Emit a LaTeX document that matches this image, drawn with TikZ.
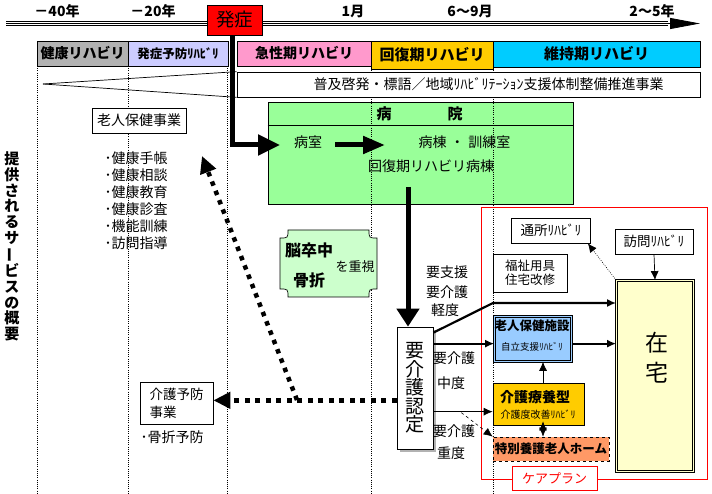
\documentclass[tikz,border=0pt]{standalone}
\usepackage{fontspec}
\setmainfont{Noto Sans CJK JP}
\usetikzlibrary{arrows.meta,calc}
\newcommand{\fsz}[1]{\fontsize{#1}{#1}\selectfont}
\newcommand{\fss}[2]{\fontsize{#1}{#2}\selectfont}
\definecolor{cgray}{RGB}{178,178,178}
\definecolor{clav}{RGB}{204,204,255}
\definecolor{cpink}{RGB}{255,153,204}
\definecolor{corange}{RGB}{255,204,0}
\definecolor{ccyan}{RGB}{0,204,255}
\definecolor{cgreen}{RGB}{153,255,153}
\definecolor{cplaque}{RGB}{204,255,204}
\definecolor{cblue}{RGB}{153,204,255}
\definecolor{csalmon}{RGB}{255,153,102}
\definecolor{cyellow}{RGB}{255,255,204}
\begin{document}
\begin{tikzpicture}[x=1pt,y=-1pt,
  bx/.style={draw, line width=0.7pt, inner sep=0pt},
  lab/.style={inner sep=0pt},
  thk/.style={line width=2.2pt},
  dotthk/.style={line width=5pt, dash pattern=on 5pt off 5.5pt},
  fdot/.style={line width=0.6pt, dash pattern=on 0.8pt off 1.4pt},
  >={Latex[length=9pt,width=8pt]}]
\useasboundingbox (0,0) rectangle (712,494);
\fill[white] (0,0) rectangle (712,494);

% timeline
\coordinate (tl0) at (6,23.5);
\coordinate (tl1) at (700,23.5);
\draw[line width=0.8pt] (6,21.3) -- (668,21.3);
\draw[line width=0.8pt] (6,25.7) -- (668,25.7);
\draw[line width=0.8pt, -{Triangle[length=30pt,width=11pt]}] (tl0) -- (tl1);
\node[lab,font=\fsz{14}\bfseries] (t40) at (57,11) {－40年};
\node[lab,font=\fsz{14}\bfseries] (t20) at (153,11) {－20年};
\node[lab,font=\fsz{14}\bfseries] (t1) at (353,11) {1月};
\node[lab,font=\fsz{14}\bfseries] (t6) at (470,11) {6～9月};
\node[lab,font=\fsz{14}\bfseries] (t2) at (652,11) {2～5年};

% hospital
\node[bx, fill=cgreen, minimum width=305pt, minimum height=102pt] (hosp) at (420.5,153) {};
\draw[line width=0.7pt] ($(hosp.north west)+(0,24)$) -- ($(hosp.north east)+(0,24)$);

% dotted guide lines
\foreach \x in {37.5,128,227,371.5,493} \draw[fdot] (\x,66) -- (\x,494);

% phases
\node[bx, fill=cgray, minimum width=91pt, minimum height=25pt, font=\fsz{14}\bfseries] (ph1) at (82.5,53.5) {健康リハビリ};
\node[bx, fill=clav, minimum width=100pt, minimum height=25pt, font=\fsz{12.5}\bfseries] (ph2) at (178,53.5) {発症予防ﾘﾊﾋﾞﾘ};
\node[bx, fill=cpink, minimum width=134pt, minimum height=25pt, font=\fsz{14}\bfseries] (ph3) at (304,53.5) {急性期リハビリ};
\node[bx, fill=ccyan, minimum width=207pt, minimum height=26pt, font=\fsz{15}\bfseries] (ph5) at (596.5,54) {維持期リハビリ};
\node[bx, fill=corange, minimum width=122pt, minimum height=28pt, font=\fsz{15}\bfseries] (ph4) at (432,55) {回復期リハビリ};

% campaign box and wedge
\node[bx, fill=white, minimum width=463pt, minimum height=25pt, font=\fsz{14}] (fukyu) at (468.5,84.5) {\hspace*{40pt}普及啓発・標語／地域ﾘﾊﾋﾞﾘﾃｰｼｮﾝ支援体制整備推進事業};
\coordinate (apex) at (43,84);
\draw[line width=0.7pt] (apex) -- (fukyu.north west);
\draw[line width=0.7pt] (apex) -- (fukyu.south west);

% onset
\coordinate (a1) at (280,145);
\draw[line width=5pt, -{Triangle[length=22pt,width=20pt]}] (232,35) |- (a1);
\node[bx, fill=red, minimum width=55pt, minimum height=30pt, font=\fsz{18.5}] (hassho) at (234.5,20) {発症};

% hospital contents
\node[lab, font=\fsz{15}\bfseries] (hb) at (384,114) {病};
\node[lab, font=\fsz{15}\bfseries] (hi) at (455,114) {院};
\node[lab, font=\fsz{14}] (byoshitsu) at (308,142) {病室};
\node[lab, font=\fsz{14}] (byoto) at (464.5,142) {病棟\hspace{4pt}・\hspace{4pt}訓練室};
\node[lab, font=\fsz{14}] (kaifuku) at (431,166) {回復期リハビリ病棟};
\coordinate (h0) at (335,145);
\coordinate (h1) at (385,145);
\draw[line width=5pt, -{Triangle[length=22pt,width=17pt]}] (h0) -- (h1);

% left vertical title
\node[lab, align=center, font={\fss{15}{15.7}\bfseries}] (title) at (12,246.5) {提\\供\\さ\\れ\\る\\サ\\\rotatebox[origin=c]{90}{ー}\\ビ\\ス\\の\\概\\要};

% health services
\node[bx, fill=white, minimum width=94pt, minimum height=25pt, font=\fsz{14}] (rojin) at (139,120.5) {老人保健事業};
\node[lab, align=left, font={\fss{14}{17}}] (list) at (136,200.5) {･健康手帳\\･健康相談\\･健康教育\\･健康診査\\･機能訓練\\･訪問指導};

% plaque
\fill[cplaque] (288,230) -- (369,230) .. controls (369,238) .. (377,238) -- (377,289) .. controls (369,289) .. (369,297) -- (288,297) .. controls (288,289) .. (280,289) -- (280,238) .. controls (288,238) .. (288,230) -- cycle;
\draw[line width=0.7pt] (288,230) -- (369,230) .. controls (369,238) .. (377,238) -- (377,289) .. controls (369,289) .. (369,297) -- (288,297) .. controls (288,289) .. (280,289) -- (280,238) .. controls (288,238) .. (288,230) -- cycle;
\node[lab, font=\fsz{16}\bfseries] (nou) at (309,250) {脳卒中};
\node[lab, font=\fsz{16}\bfseries] (kotsu) at (309,280) {骨折};
\node[lab, font=\fsz{13}] (juushi) at (355,267) {を重視};

% care plan area
\node[draw=red, line width=0.8pt, inner sep=0pt, minimum width=226pt, minimum height=272pt] (area) at (594,343) {};

% certification
\fill[cgray] (400,330) rectangle (436,452);
\node[bx, fill=white, minimum width=36pt, minimum height=122pt] (nintei) at (415,388) {};
\node[lab, align=center, font={\fss{19}{18.5}}] (nt) at (415,388) {要\\介\\護\\認\\定};
\coordinate (d0) at (408,187);
\draw[line width=5pt, -{Triangle[length=18pt,width=22pt]}] (d0) -- (d0 |- nintei.north);

\node[lab, font=\fsz{14}] (l1) at (447,272) {要支援};
\node[lab, font=\fsz{14}] (l2) at (447,292) {要介護};
\node[lab, font=\fsz{14}] (l3) at (445,310) {軽度};
\node[lab, font=\fsz{14}] (l4) at (454,358) {要介護};
\node[lab, font=\fsz{14}] (l5) at (451,383) {中度};
\node[lab, font=\fsz{14}] (l6) at (454,431) {要介護};
\node[lab, font=\fsz{14}] (l7) at (451,453) {重度};

% care prevention
\node[bx, fill=white, minimum width=73pt, minimum height=42pt, align=left, font={\fss{13.5}{18}}] (yobo) at (176.5,403) {介護予防\\事業};
\node[lab, font=\fsz{14}] (kossetsu) at (172,437) {･骨折予防};
\coordinate (q) at ($(nintei.south west)+(0,-49)$);
\draw[dotthk, -{Triangle[length=17pt,width=16pt]}] (q) -- (q -| yobo.east);
\coordinate (q2) at (297,400);
\coordinate (q3) at (202,156);
\draw[line width=4.5pt, dash pattern=on 4.5pt off 5.5pt, -{Triangle[length=17pt,width=16pt]}] (q2) -- (q3);

% boxes in care plan area
\node[bx, fill=white, minimum width=79pt, minimum height=25pt, font=\fsz{13.5}] (tsusho) at (551,230.5) {通所ﾘﾊﾋﾞﾘ};
\node[bx, fill=white, minimum width=78pt, minimum height=25pt, font=\fsz{13.5}] (homon) at (654,241.5) {訪問ﾘﾊﾋﾞﾘ};
\node[bx, fill=white, minimum width=74pt, minimum height=38pt, align=left, font={\fss{12.5}{14}}] (fukushi) at (530,273) {福祉用具\\住宅改修};
\node[draw, line width=0.6pt, double=cyellow, double distance=1.5pt, fill=cyellow, inner sep=0pt, minimum width=77.2pt, minimum height=191.2pt] (zaitaku) at (655,376) {};
\node[lab, align=center, font={\fss{23}{30}}] (zt) at (657,358) {在\\宅};
\node[draw, line width=0.6pt, double=cblue, double distance=1.5pt, fill=cblue, inner sep=0pt, minimum width=77pt, minimum height=45pt] (roken) at (533,339) {};
\node[lab, font=\fsz{12.5}\bfseries] (rokent) at (532,326) {老人保健施設};
\node[lab, font=\fsz{9.5}] (rokens) at (532,347) {自立支援ﾘﾊﾋﾞﾘ};
\node[bx, fill=corange, minimum width=91pt, minimum height=42pt] (ryoyo) at (538.5,404) {};
\node[lab, font=\fsz{14}\bfseries] (ryoyot) at (535,397) {介護療養型};
\node[lab, font=\fsz{10}] (ryoyos) at (538,415) {介護度改善ﾘﾊﾋﾞﾘ};
\node[draw, line width=0.7pt, dashed, fill=csalmon, inner sep=0pt, minimum width=116pt, minimum height=24pt, font=\fsz{12.5}\bfseries] (tokuyo) at (551,449) {特別養護老人ホーム};
\node[draw=red, line width=0.8pt, fill=white, inner sep=0pt, minimum width=85pt, minimum height=24pt, text=red, font=\fsz{13}] (careplan) at (554.5,478) {ケアプラン};

% connectors
\coordinate (k0) at ($(nintei.north east)+(0,6)$);
\coordinate (k1) at (493,303);
\draw[thk, ->] (k0) -- (k1) -- (k1 -| zaitaku.west);
\coordinate (p2) at ($(nintei.north east)+(0,17)$);
\draw[thk, ->] (p2) -- (p2 -| roken.west);
\draw[thk, ->] (p2 -| roken.east) -- (p2 -| zaitaku.west);
\coordinate (p4) at ($(nintei.north east)+(0,85)$);
\draw[line width=0.7pt, ->] (p4) -- (p4 -| ryoyo.west);
\coordinate (p5) at ($(p4)+(28,1)$);
\draw[line width=0.6pt, dashed, ->] (p5) -- (tokuyo.north west);
\coordinate (cx) at (543,0);
\draw[line width=0.7pt, ->] (ryoyo.north -| cx) -- (roken.south -| cx);
\draw[line width=0.7pt, dashed, <->] ($(ryoyo.south -| cx)+(0,-4)$) -- (tokuyo.north -| cx);
\draw[fdot, ->] (zaitaku.north west) -- ($(tsusho.south east)+(-3,0)$);
\draw[line width=0.7pt, ->] (homon.south) -- (zaitaku.north);
\end{tikzpicture}
\end{document}
